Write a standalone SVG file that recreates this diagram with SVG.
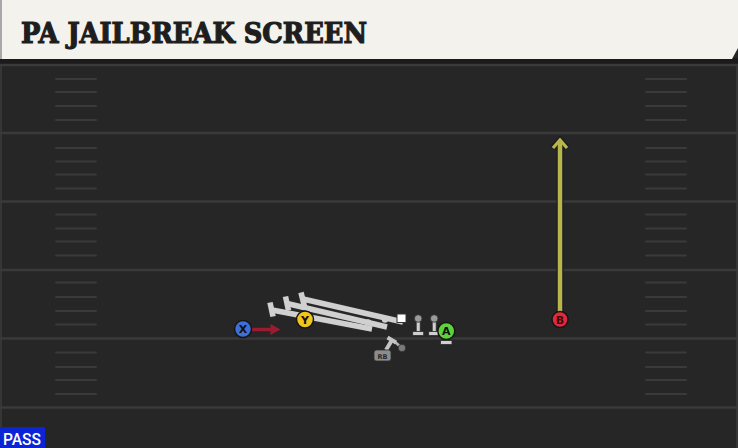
<svg xmlns="http://www.w3.org/2000/svg" width="738" height="448" viewBox="0 0 738 448">
  <style>
    .yard { stroke: #3a3a3a; stroke-width: 2.5; }
    .hash { stroke: #3a3a3a; stroke-width: 2; stroke-linecap: round; }
    .plabel { font-family: "DejaVu Sans", "Liberation Sans", sans-serif; font-weight: bold; font-size: 11px; text-anchor: middle; fill: #111; }
    .pcirc { stroke: #151515; stroke-width: 1.5; }
    .routeOut { stroke: #2a2a2a; stroke-width: 7.5; fill: none; stroke-linecap: butt; }
    .routeIn { stroke: #d0d0d0; stroke-width: 5.5; fill: none; stroke-linecap: butt; }
    .lm { fill: #cfcfcf; stroke: #2a2a2a; stroke-width: 0.8; }
    .lmhead { fill: #9a9a9a; stroke: #2a2a2a; stroke-width: 0.8; }
  </style>
  <defs>
    <g id="hashes">
      <line class="hash" x1="56" x2="96" y1="0" y2="0"/>
      <line class="hash" x1="646" x2="686" y1="0" y2="0"/>
    </g>
  </defs>

  <!-- field -->
  <rect x="0" y="0" width="738" height="448" fill="#262626"/>
  <rect x="0" y="60" width="2" height="388" fill="#363636"/>
  <rect x="736" y="60" width="2" height="388" fill="#363636"/>
  <rect x="0" y="58" width="738" height="6" fill="#1b1b1b"/>

  <g id="yardlines">
    <line class="yard" x1="0" x2="738" y1="65" y2="65"/>
    <line class="yard" x1="0" x2="738" y1="133" y2="133"/>
    <line class="yard" x1="0" x2="738" y1="201.5" y2="201.5"/>
    <line class="yard" x1="0" x2="738" y1="270" y2="270"/>
    <line class="yard" x1="0" x2="738" y1="338.5" y2="338.5"/>
    <line class="yard" x1="0" x2="738" y1="407.5" y2="407.5"/>
  </g>
  <g id="hashmarks">
    <use href="#hashes" y="79"/><use href="#hashes" y="92"/><use href="#hashes" y="106"/><use href="#hashes" y="120"/>
    <use href="#hashes" y="148"/><use href="#hashes" y="161.5"/><use href="#hashes" y="174.5"/><use href="#hashes" y="188.5"/>
    <use href="#hashes" y="214.5"/><use href="#hashes" y="228.5"/><use href="#hashes" y="241.5"/><use href="#hashes" y="255.5"/>
    <use href="#hashes" y="282.5"/><use href="#hashes" y="297"/><use href="#hashes" y="311"/><use href="#hashes" y="324.5"/>
    <use href="#hashes" y="352.5"/><use href="#hashes" y="367"/><use href="#hashes" y="380"/><use href="#hashes" y="394"/>
  </g>

  <!-- header -->
  <g id="header">
    <path d="M0 0 H738 V48 L732 59 H0 Z" fill="#f4f2ec"/>
    <rect x="0" y="0" width="2" height="59" fill="#a8a8a8"/>
    <text x="21" y="42.5" font-family="'DejaVu Serif', 'Liberation Serif', serif" font-weight="bold" font-size="27" fill="#1e1e1e" stroke="#1e1e1e" stroke-width="1.2" stroke-linejoin="miter" textLength="346" lengthAdjust="spacingAndGlyphs">PA JAILBREAK SCREEN</text>
  </g>

  <!-- connectors -->
  <g id="connectors">
    <!-- blocking routes -->
    <path class="routeOut" d="M372 329 L272 310"/>
    <path class="routeOut" d="M387 327 L287 303.5"/>
    <path class="routeOut" d="M403 322 L303 299"/>
    <line class="routeOut" x1="269.5" y1="301.5" x2="273" y2="317.5"/>
    <line class="routeOut" x1="285" y1="295.5" x2="289" y2="311.5"/>
    <line class="routeOut" x1="300.5" y1="291.5" x2="305" y2="307.5"/>
    <path class="routeIn" d="M372 329 L272 310"/>
    <path class="routeIn" d="M387 327 L287 303.5"/>
    <path class="routeIn" d="M403 322 L303 299"/>
    <line class="routeIn" x1="270" y1="302.5" x2="273" y2="316.5"/>
    <line class="routeIn" x1="285.5" y1="296.5" x2="288.5" y2="310.5"/>
    <line class="routeIn" x1="301" y1="292.5" x2="304.5" y2="306.5"/>
    <circle cx="368" cy="322.5" r="3.2" fill="#d0d0d0"/>
    <circle cx="385" cy="319.5" r="3.2" fill="#d0d0d0"/>

    <!-- X motion arrow -->
    <line x1="252" y1="329.5" x2="273" y2="329.5" stroke="#9b1b30" stroke-width="3.5"/>
    <polygon points="270.5,324 280.5,329.5 270.5,335" fill="#9b1b30"/>

    <!-- B vertical route -->
    <line x1="560" y1="312" x2="560" y2="142" stroke="#1a1a28" stroke-width="7"/>
    <polyline points="553,148 560,140 567,148" fill="none" stroke="#1a1a28" stroke-width="6" stroke-linejoin="miter"/>
    <line x1="560" y1="312" x2="560" y2="142" stroke="#b8b648" stroke-width="4.5"/>
    <polyline points="553,148 560,140 567,148" fill="none" stroke="#b8b648" stroke-width="3.2" stroke-linejoin="miter"/>
  </g>

  <!-- players -->
  <g id="player-x">
    <circle class="pcirc" cx="243" cy="329" r="8.5" fill="#3d6fd6"/>
    <text class="plabel" x="243" y="333">X</text>
  </g>
  <g id="player-y">
    <circle class="pcirc" cx="305" cy="319.5" r="8.5" fill="#f0c51c"/>
    <text class="plabel" x="305" y="323.5">Y</text>
  </g>
  <g id="center">
    <rect x="397" y="314" width="9" height="8.5" fill="#ffffff" stroke="#333" stroke-width="1"/>
  </g>
  <g id="lineman-1">
    <rect class="lm" x="416.2" y="319" width="4" height="13"/>
    <rect class="lm" x="412.7" y="331.5" width="11" height="4"/>
    <circle class="lmhead" cx="418.2" cy="318.5" r="3.8"/>
  </g>
  <g id="lineman-2">
    <rect class="lm" x="432.2" y="319" width="4" height="13"/>
    <rect class="lm" x="428.7" y="331.5" width="11" height="4"/>
    <circle class="lmhead" cx="434.2" cy="318.5" r="3.8"/>
  </g>
  <g id="player-a">
    <rect class="lm" x="444.3" y="336" width="4" height="5"/>
    <rect class="lm" x="440.5" y="340.5" width="11.5" height="4"/>
    <circle class="pcirc" cx="446.3" cy="331" r="8.5" fill="#5fd13b"/>
    <text class="plabel" x="446.3" y="335">A</text>
  </g>
  <g id="player-rb">
    <line x1="395" y1="342" x2="402" y2="348" stroke="#b5b5b5" stroke-width="2.8"/>
    <line x1="386" y1="350" x2="392" y2="340" stroke="#c4c4c4" stroke-width="4"/>
    <line x1="387.5" y1="337.5" x2="396" y2="342.5" stroke="#c4c4c4" stroke-width="4"/>
    <circle cx="402" cy="348" r="3.8" fill="#7a7a7a" stroke="#2a2a2a" stroke-width="0.8"/>
    <rect x="374" y="350" width="17" height="11" rx="2.5" fill="#8c8c8c" stroke="#2e2e2e" stroke-width="0.8"/>
    <text x="382.5" y="358.5" font-family="'DejaVu Sans', 'Liberation Sans', sans-serif" font-weight="bold" font-size="6.5" text-anchor="middle" fill="#2a2a2a">RB</text>
  </g>
  <g id="player-b">
    <circle class="pcirc" cx="560" cy="319.5" r="8" fill="#e0283f"/>
    <text class="plabel" x="560" y="323.5" style="fill:#3a0a10">B</text>
  </g>

  <!-- play type badge -->
  <g id="pass-badge">
    <rect x="0" y="427" width="45" height="21" fill="#0b25d6"/>
    <text x="3" y="445" font-family="Roboto, 'Liberation Sans', sans-serif" font-weight="500" font-size="16" fill="#ffffff" textLength="38" lengthAdjust="spacingAndGlyphs">PASS</text>
  </g>
</svg>
